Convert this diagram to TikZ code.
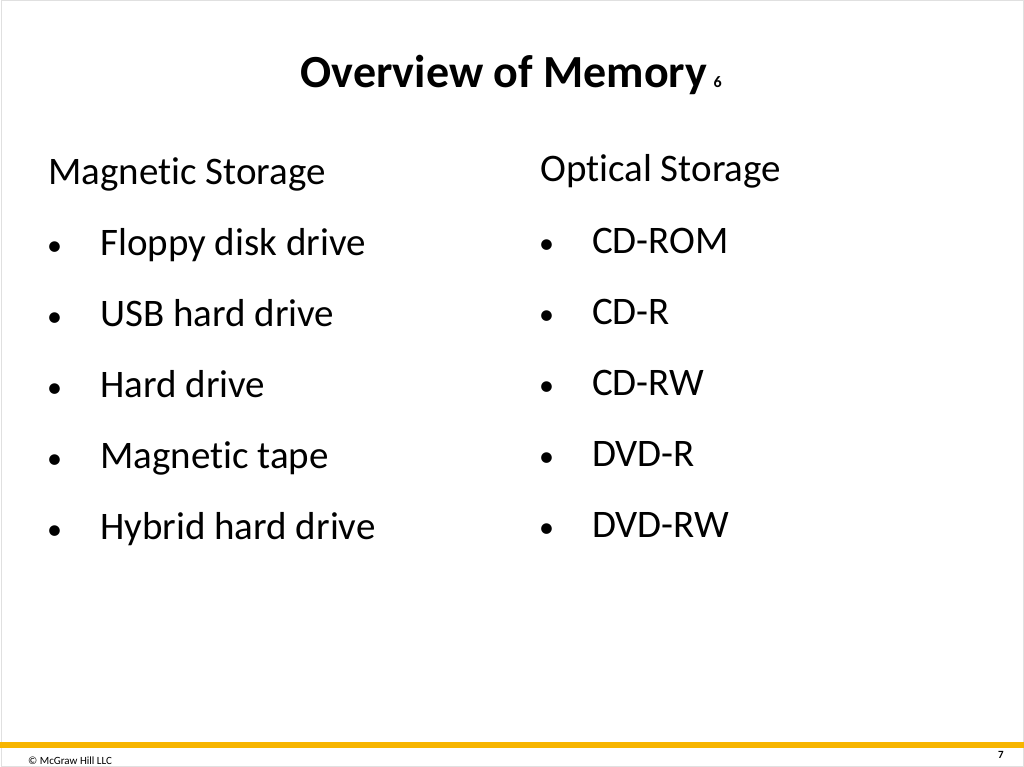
\documentclass[tikz,border=0pt]{standalone}
\usepackage{fontspec}
\setmainfont[Ligatures=NoCommon]{Carlito}
\definecolor{gold}{HTML}{F7B500}
\begin{document}
\begin{tikzpicture}[x=1pt,y=-1pt,
  body/.style={anchor=base west,inner sep=0pt,font=\fontsize{39}{44}\selectfont},
  foot/.style={inner sep=0pt,font=\fontsize{11}{12}\selectfont}]
\useasboundingbox (0,0) rectangle (1024,767);
\fill[white] (0,0) rectangle (1024,767);
\draw[black!12,line width=1] (1,1) rectangle (1023,766);
\node[anchor=base,inner sep=0pt,font=\fontsize{46}{50}\bfseries\selectfont] (title) at (504,88) {Overview of Memory};
\node[anchor=base west,inner sep=0pt,font=\fontsize{16}{18}\bfseries\selectfont] (six) at (title.base east) [xshift=6pt] {6};
\node[body] (mh) at (48,185) {Magnetic Storage};
\foreach \t [count=\i] in {Floppy disk drive,USB hard drive,Hard drive,Magnetic tape,Hybrid hard drive}{
  \node[body,font=\fontsize{30}{34}\selectfont] (mb\i) at (47,{185+71*\i-1}) {•};
  \node[body] (mt\i) at (100,{185+71*\i-1}) {\t};
}
\node[body] (oh) at (540,182) {Optical Storage};
\foreach \t [count=\i] in {CD-ROM,CD-R,CD-RW,DVD-R,DVD-RW}{
  \node[body,font=\fontsize{30}{34}\selectfont] (ob\i) at (539,{182+71*\i}) {•};
  \node[body] (ot\i) at (592,{182+71*\i}) {\t};
}
\fill[gold] (0,742) rectangle (1024,748);
\node[foot,anchor=base west] (copy) at (28,764) {© McGraw Hill LLC};
\node[foot,anchor=base east] (pg) at (1004,758) {\bfseries 7};
\end{tikzpicture}
\end{document}
